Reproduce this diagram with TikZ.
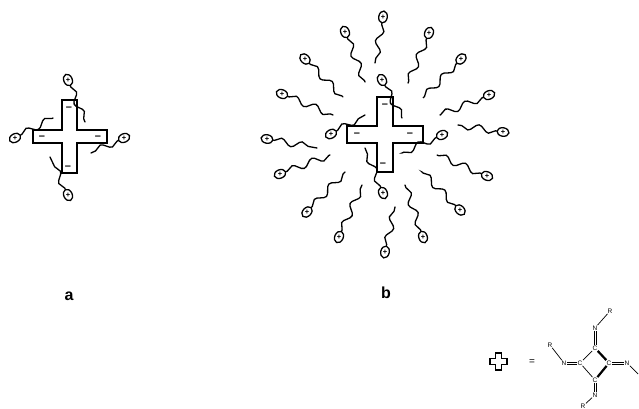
\documentclass[tikz,border=0pt]{standalone}
\usepackage{fontspec}
\setmainfont{Liberation Sans}
\usetikzlibrary{shapes.geometric,decorations.pathmorphing}

\begin{document}
\begin{tikzpicture}[x=1pt,y=-1pt,
  ionshell/.style={ellipse,draw,line width=1.3pt,minimum width=12pt,minimum height=8.5pt,inner sep=0pt},
  ioncharge/.style={font=\fontsize{7.5}{7.5}\selectfont\bfseries,inner sep=0pt},
  tail/.style={line width=1.3pt,line cap=round,decorate,
    decoration={snake,amplitude=3.4pt,segment length=21pt,pre length=1pt,post length=0.5pt}},
  slab/.style={draw,line width=1.7pt,line join=miter},
  charge/.style={font=\fontsize{11}{11}\selectfont\bfseries,inner sep=0pt},
  caption/.style={font=\fontsize{16}{16}\selectfont\bfseries,inner sep=0pt},
  atom/.style={font=\fontsize{6.5}{6.5}\selectfont,inner sep=0.4pt},
  bond/.style={line width=0.7pt},
  wbond/.style={line width=2.2pt},
]
\useasboundingbox (0,0) rectangle (639,409);

% ---------- (a) single charged cross with four counter-ions ----------
\draw[slab] (62,100) -- (77,100) -- (77,130) -- (107,130) -- (107,143) -- (77,143)
  -- (77,173) -- (62,173) -- (62,143) -- (33,143) -- (33,130) -- (62,130) -- cycle;
\node[charge] (ma1) at (69,109) {–};
\node[charge] (ma2) at (42,138) {–};
\node[charge] (ma3) at (98,138) {–};
\node[charge] (ma4) at (68,168) {–};

% ---------- (b) charged cross surrounded by a cloud of counter-ions ----------
\draw[slab] (377,97) -- (393,97) -- (393,126) -- (423,126) -- (423,143) -- (393,143)
  -- (393,172) -- (377,172) -- (377,143) -- (347,143) -- (347,126) -- (377,126) -- cycle;
\node[charge] (mb1) at (385,106) {–};
\node[charge] (mb2) at (357,135) {–};
\node[charge] (mb3) at (410,135) {–};
\node[charge] (mb4) at (383,165) {–};

% counter-ions: name / ion centre / end of the chain
\foreach \n/\x/\y/\ex/\ey in {
   a1/68/80/85/122, a2/15/138/53/118, a3/124/138/91/153, a4/68/195/50/157,
   b1/383/17/375/63, b2/345/32/365/82, b3/305/59/343/97, b4/282/94/333/115,
   b5/267/139/317/148, b6/280/174/330/155, b7/307/212/345/172, b8/339/237/362/185,
   b9/385/252/395/207, b10/423/237/405/185, b11/460/210/422/172, b12/487/176/437/155,
   b13/503/132/458/125, b14/489/95/440/115, b15/461/59/423/98, b16/429/33/408/83,
   c1/382/80/402/118, c2/331/134/365/115, c3/383/193/365/148, c4/442/135/402/153}{
  \pgfmathsetmacro\ang{atan2(\y-\ey,\ex-\x)}
  \node[ionshell,rotate=\ang] (ion-\n) at (\x,\y) {};
  \node[ioncharge] (q-\n) at (ion-\n.center) {+};
  \coordinate (tip-\n) at (\ex,\ey);
  \draw[tail] (ion-\n) -- (tip-\n);
}

% captions
\node[caption] (capa) at (69,296) {a};
\node[caption] (capb) at (386,293) {b};

% ---------- key: the cross stands for the squaraine-type core ----------
\draw[line width=1.3pt] (495.5,353) -- (501.5,353) -- (501.5,358.5) -- (507,358.5) -- (507,364.5)
  -- (501.5,364.5) -- (501.5,370) -- (495.5,370) -- (495.5,364.5) -- (490,364.5) -- (490,358.5)
  -- (495.5,358.5) -- cycle;
\node[font=\fontsize{10}{10}\selectfont] (eq) at (532,362) {=};

\node[atom] (ct) at (595,348) {C};
\node[atom] (cl) at (580,363) {C};
\node[atom] (cb) at (595,380) {C};
\node[atom] (cr) at (609,363) {C};
\node[atom] (nt) at (595,328) {N};
\node[atom] (nl) at (564,363) {N};
\node[atom] (nr) at (627,363) {N};
\node[atom] (nb) at (595,395) {N};
\node[atom] (rt) at (610,311) {R};
\node[atom] (rl) at (550,345) {R};
\node[atom] (rb) at (583,406) {R};
\coordinate (rr) at (638,374);

% four-membered ring, right-hand edges in bold
\draw[bond] (ct) -- (cl) -- (cb);
\draw[wbond] (ct) -- (cr) -- (cb);
% exocyclic C=N double bonds
\draw[bond] ([xshift=-1pt]nt.south) -- ([xshift=-1pt]ct.north);
\draw[bond] ([xshift=1pt]nt.south) -- ([xshift=1pt]ct.north);
\draw[bond] ([yshift=-1pt]nl.east) -- ([yshift=-1pt]cl.west);
\draw[bond] ([yshift=1pt]nl.east) -- ([yshift=1pt]cl.west);
\draw[bond] ([yshift=-1pt]cr.east) -- ([yshift=-1pt]nr.west);
\draw[bond] ([yshift=1pt]cr.east) -- ([yshift=1pt]nr.west);
\draw[bond] ([xshift=-1pt]cb.south) -- ([xshift=-1pt]nb.north);
\draw[bond] ([xshift=1pt]cb.south) -- ([xshift=1pt]nb.north);
% N-substituents
\draw[bond] (nt) -- (rt);
\draw[bond] (nl) -- (rl);
\draw[bond] (nr) -- (rr);
\draw[bond] (nb) -- (rb);
\end{tikzpicture}
\end{document}
